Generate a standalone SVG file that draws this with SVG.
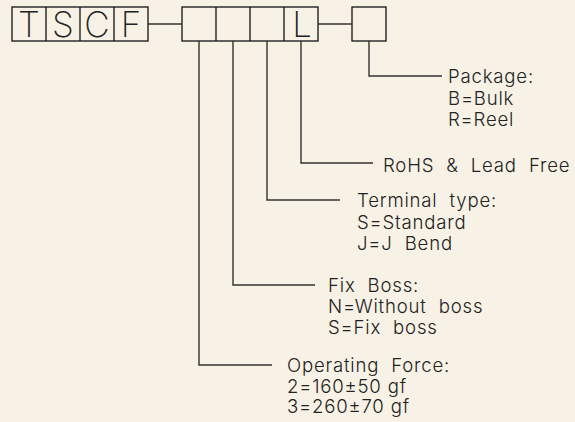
<svg xmlns="http://www.w3.org/2000/svg" width="575" height="422" viewBox="0 0 575 422">
<style>
.bg{fill:#f8f2e6}
.box{fill:none;stroke:#222;stroke-width:1.4}
.ln{fill:none;stroke:#333;stroke-width:1.4}
.big{font-family:Inter,"Liberation Sans",sans-serif;font-weight:200;font-size:35px;fill:#222;text-anchor:middle}
.lbl{font-family:Inter,"Liberation Sans",sans-serif;font-weight:300;font-size:18.6px;fill:#222;letter-spacing:0.8px}
</style>
<rect class="bg" x="0" y="0" width="575" height="422"/>
<g id="code-tscf">
<rect class="box" x="12" y="7" width="136" height="34"/>
<line class="box" x1="46" y1="7" x2="46" y2="41"/>
<line class="box" x1="80" y1="7" x2="80" y2="41"/>
<line class="box" x1="114" y1="7" x2="114" y2="41"/>
<text class="big" x="29" y="37">T</text>
<text class="big" x="63" y="37">S</text>
<text class="big" x="97" y="37">C</text>
<text class="big" x="131" y="37">F</text>
</g>
<g id="code-options">
<rect class="box" x="182" y="7" width="136" height="34"/>
<line class="box" x1="216" y1="7" x2="216" y2="41"/>
<line class="box" x1="250" y1="7" x2="250" y2="41"/>
<line class="box" x1="284" y1="7" x2="284" y2="41"/>
<text class="big" x="302" y="37">L</text>
</g>
<g id="code-package">
<rect class="box" x="352" y="7" width="34" height="34"/>
</g>
<g id="connectors">
<line class="ln" x1="148" y1="24" x2="182" y2="24"/>
<line class="ln" x1="318" y1="24" x2="352" y2="24"/>
<polyline class="ln" points="369,41 369,76 442,76"/>
<polyline class="ln" points="301,41 301,163 373,163"/>
<polyline class="ln" points="267,41 267,200 340,200"/>
<polyline class="ln" points="233,41 233,285 315,285"/>
<polyline class="ln" points="199,41 199,365 272,365"/>
</g>
<g id="label-package">
<text class="lbl" x="448" y="83">Package:</text>
<text class="lbl" x="448" y="105">B=Bulk</text>
<text class="lbl" x="448" y="126">R=Reel</text>
</g>
<g id="label-rohs">
<text class="lbl" x="383" y="172" xml:space="preserve">RoHS  &amp;  Lead  Free</text>
</g>
<g id="label-terminal">
<text class="lbl" x="357" y="207" xml:space="preserve">Terminal  type:</text>
<text class="lbl" x="357" y="229">S=Standard</text>
<text class="lbl" x="357" y="250" xml:space="preserve">J=J  Bend</text>
</g>
<g id="label-boss">
<text class="lbl" x="328" y="292" xml:space="preserve">Fix  Boss:</text>
<text class="lbl" x="328" y="313" xml:space="preserve">N=Without  boss</text>
<text class="lbl" x="328" y="334" xml:space="preserve">S=Fix  boss</text>
</g>
<g id="label-force">
<text class="lbl" x="287" y="372" xml:space="preserve">Operating  Force:</text>
<text class="lbl" x="287" y="393">2=160±50 gf</text>
<text class="lbl" x="287" y="413">3=260±70 gf</text>
</g>
</svg>
